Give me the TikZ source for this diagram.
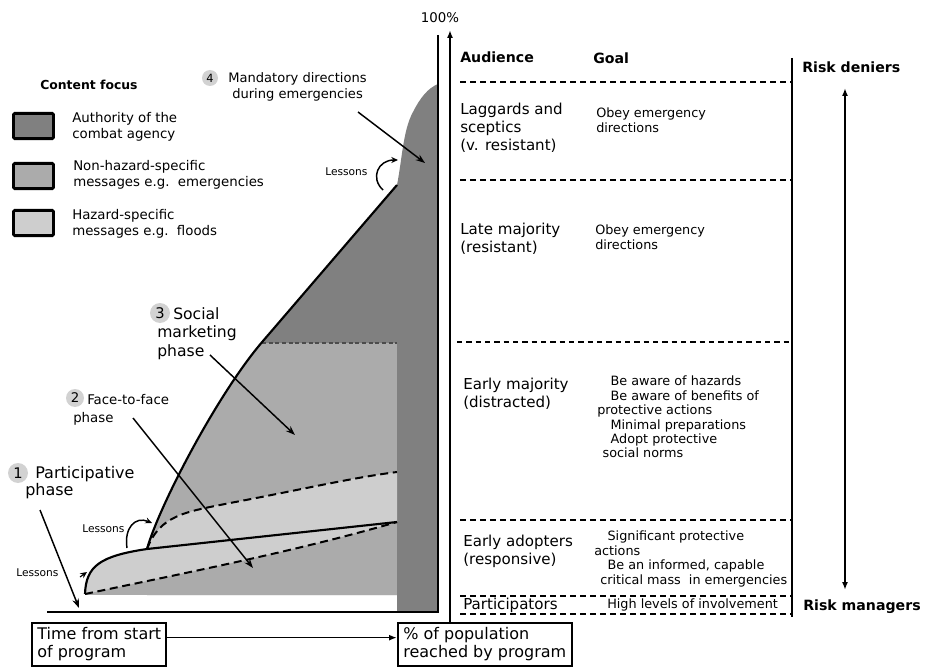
\documentclass[tikz,border=0pt]{standalone}
\usepackage{fontspec}
\setmainfont{DejaVu Sans}
\usetikzlibrary{arrows.meta}

\definecolor{darkfill}{RGB}{128,128,128}
\definecolor{midfill}{RGB}{171,171,171}
\definecolor{lightfill}{RGB}{206,206,206}
\definecolor{numfill}{RGB}{210,210,210}

% adoption curve and the participative start, in pixel units
\newcommand{\adoptionrise}{.. controls (159,506) and (218,393) .. (263,341) -- (397,185)}
\newcommand{\startcurve}{(85,594) .. controls (86,566) and (100,556) .. (147,549)}

\begin{document}
\begin{tikzpicture}[x=0.75pt, y=-0.75pt,
  txt/.style={anchor=north west, inner sep=0pt, align=left},
  aud/.style={txt, font=\fontsize{11.3}{13.5}\selectfont},
  goal/.style={txt, font=\fontsize{9.6}{10.8}\selectfont},
  legend/.style={txt, font=\fontsize{10}{12}\selectfont},
  head/.style={txt, font=\bfseries\fontsize{10.6}{12}\selectfont},
  lessons/.style={txt, font=\fontsize{8}{9}\selectfont},
  numdot/.style={circle, fill=numfill, inner sep=0pt, minimum size=#1},
  key/.style={draw, line width=2.2pt, rounded corners=1pt, minimum width=30pt, minimum height=19pt, inner sep=0pt},
  axisbox/.style={draw, line width=1.5pt, anchor=north west, inner xsep=4pt, inner ysep=2pt, minimum height=32pt, font=\fontsize{12}{13.5}\selectfont, align=left},
  pointer/.style={line width=1.1pt, -{Stealth[length=7pt, width=5pt]}},
  level/.style={line width=0.9pt, dash pattern=on 4.5pt off 3pt},
  trend/.style={line width=1.5pt, dash pattern=on 6pt off 3.5pt},
]
\useasboundingbox (0,0) rectangle (926,667);

%fills of the three content areas
\fill[darkfill] (147,549) \adoptionrise .. controls (402,160) and (403,130) .. (413,112)
   .. controls (420,98) and (428,88) .. (438,84) -- (438,612) -- (397,612) -- (397,595) -- (147,595) -- cycle;
\begin{scope}
  \clip (85,595) -- \startcurve \adoptionrise -- (397,595) -- cycle;
  \fill[midfill] (80,343) rectangle (397,595);
\end{scope}
\fill[lightfill] \startcurve .. controls (160,515) and (185,512) .. (230,503)
   .. controls (300,490) and (350,478) .. (397,472) -- (397,522)
   .. controls (300,550) and (200,570) .. (85,594) -- cycle;
\draw[black!70, line width=0.8pt, dash pattern=on 3pt off 2pt] (262,343) -- (397,343);

%curves
\draw[trend] (147,549) .. controls (160,515) and (185,512) .. (230,503)
   .. controls (300,490) and (350,478) .. (397,472);
\draw[trend] (85,594) .. controls (200,570) and (300,550) .. (397,522);
\draw[line width=1.6pt] \startcurve -- (397,522);
\draw[line width=1.6pt] (147,549) \adoptionrise;

%axes
\draw[line width=1.9pt] (47,612) -- (439,612);
\draw[line width=1.9pt] (438,35) -- (438,612);
\node[anchor=north, inner sep=0pt, font=\fontsize{10}{12}\selectfont] (full) at (440,12) {100\%};

\node[axisbox] (timebox) at (31,622) {Time from start\\of program};
\node[axisbox, minimum width=130pt] (popbox) at (397,622) {\% of population\\reached by program};
\draw[line width=1.2pt, -{Latex[length=6pt, width=4.5pt]}] ([yshift=5pt]timebox.east) -- ([yshift=5pt]popbox.west);
\coordinate (reachtop) at (450,30);
\draw[line width=1.3pt, -{Latex[length=6pt, width=4.5pt]}] (450,0 |- popbox.north) -- (reachtop);

%legend
\node[txt, font=\bfseries\fontsize{9.3}{11}\selectfont] (focus) at (40,80) {Content focus};
\node[key, fill=darkfill] (keydark) at (33.5,126) {};
\node[key, fill=midfill] (keymid) at (33.5,176) {};
\node[key, fill=lightfill] (keylight) at (33.5,223) {};
\node[legend] (authority) at (72,112) {Authority of the\\combat agency};
\node[legend] (nonhazard) at (73,160) {Non-hazard-specific\\messages e.g.\ \ emergencies};
\node[legend] (hazard) at (72,209) {Hazard-specific\\messages e.g.\ \ floods};

%phases
\node[numdot=12pt, font=\fontsize{8.5}{9}\selectfont] (num4) at (210,78) {4};
\node[txt, font=\fontsize{9.8}{12}\selectfont] (mandatory) at (228,72) {Mandatory directions\\\hspace*{3pt}during emergencies};
\node[numdot=15pt, font=\fontsize{11}{12}\selectfont] (num3) at (160,313) {3};
\node[txt, font=\fontsize{11.7}{13.9}\selectfont] (social) at (157,307) {\hspace*{12pt}Social\\marketing\\phase};
\node[numdot=13.5pt, font=\fontsize{10}{11}\selectfont] (num2) at (75,398) {2};
\node[txt, font=\fontsize{10}{13.5}\selectfont] (face) at (73,394) {\hspace*{10.5pt}Face-to-face\\phase};
\node[numdot=15pt, font=\fontsize{11}{12}\selectfont] (num1) at (18,473) {1};
\node[txt, font=\fontsize{12}{12.8}\selectfont] (particip) at (25,466) {\hspace*{7.5pt}Participative\\phase};

\coordinate (aim4) at (425,163);
\coordinate (aim3) at (295,435);
\coordinate (aim2) at (253,568);
\coordinate (aim1) at (79,608);
\draw[pointer] (358,112) -- (aim4);
\draw[pointer] (210,355) -- (aim3);
\draw[pointer] (133,418) -- (aim2);
\draw[pointer] (40,510) -- (aim1);

%lessons
\node[lessons] (lessonstop) at (325,167) {Lessons};
\node[lessons] (lessonsmid) at (82,524) {Lessons};
\node[lessons] (lessonslow) at (16,568) {Lessons};
\draw[line width=1.1pt, -{Stealth[length=5pt, width=4.5pt]}] (383,190) .. controls (370,178) and (378,160) .. (398,160);
\draw[line width=1.1pt, -{Stealth[length=5pt, width=4.5pt]}] (127,548) .. controls (124,528) and (135,516) .. (152,523);
\draw[line width=0.8pt, -{Stealth[length=5pt, width=4.5pt]}] (80,577) -- (87,572);

%audience panel
\draw[line width=1.4pt] (792,58) -- (792,617);
\foreach \y in {82,180,520,596,614}
  \draw[level] (460,\y) -- (792,\y);
\draw[line width=2.2pt, dash pattern=on 4pt off 3pt] (457,342) -- (792,342);

\node[head] (audience) at (460,51) {Audience};
\node[head] (goal) at (593,52) {Goal};
\node[head] (deniers) at (802,61) {Risk deniers};
\node[head] (managers) at (803,599) {Risk managers};
\coordinate (denierstip) at (845,88);
\coordinate (managerstip) at (845,590);
\draw[line width=1.3pt, {Latex[length=6pt, width=4.5pt]}-{Latex[length=6pt, width=4.5pt]}] (denierstip) -- (managerstip);

\node[aud] (laggards) at (460,103) {Laggards and\\sceptics\\(v. resistant)};
\node[goal] (laggardsgoal) at (596,108) {Obey emergency\\directions};
\node[aud] (late) at (460,223) {Late majority\\(resistant)};
\node[goal] (lategoal) at (595,225) {Obey emergency\\directions};
\node[aud] (earlymaj) at (463,378) {Early majority\\(distracted)};
\node[goal] (earlymajgoal) at (597,376) {\hspace*{10pt}Be aware of hazards\\\hspace*{10pt}Be aware of benefits of\\protective actions\\\hspace*{10pt}Minimal preparations\\\hspace*{10pt}Adopt protective\\\hspace*{4pt}social norms};
\node[aud] (adopters) at (463,535) {Early adopters\\(responsive)};
\node[goal] (adoptersgoal) at (594,531) {\hspace*{10pt}Significant protective\\actions\\\hspace*{10pt}Be an informed, capable\\\hspace*{4.5pt}critical mass\ \ in emergencies};
\node[aud] (particips) at (463,598) {Participators};
\node[goal] (participsgoal) at (607,599) {High levels of involvement};
\end{tikzpicture}
\end{document}
